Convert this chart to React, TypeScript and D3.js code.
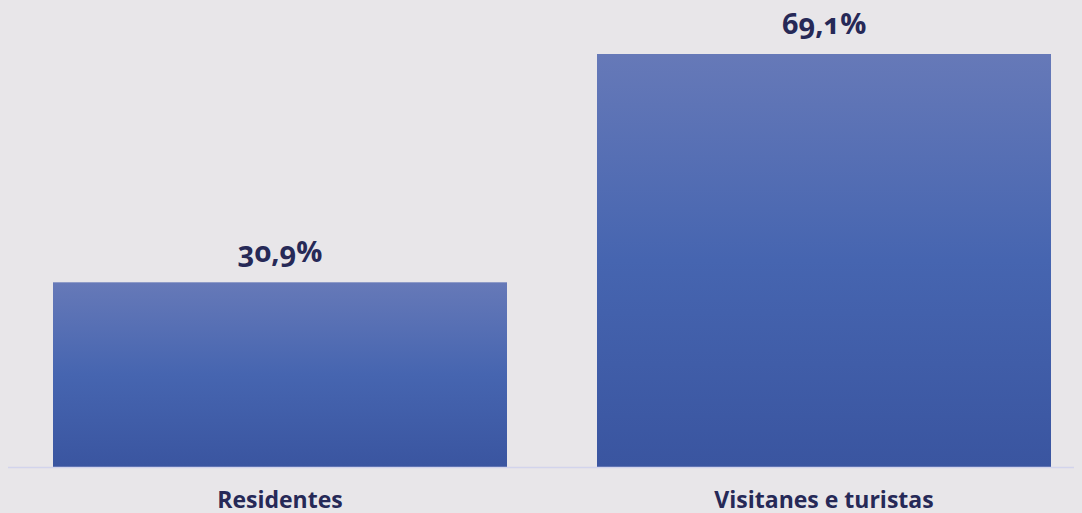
import React from "react";
import * as d3 from "d3";

const categories = ["Residentes", "Visitanes e turistas"];
const values = [30.9, 69.1];
const valueLabels = ["30,9%", "69,1%"];

const W = 1082;
const H = 513;

export default function App() {
  const x = d3
    .scaleBand<string>()
    .domain(categories)
    .range([8, 1096])
    .paddingInner(90 / 544)
    .paddingOuter(45 / 544);
  const y = d3.scaleLinear().domain([0, 69.1]).range([467, 54]);
  const font = "'Open Sans', 'Noto Sans', sans-serif";
  const textColor = "#262957";

  return (
    <svg
      width={W}
      height={H}
      style={{ position: "absolute", left: 0, top: 0, display: "block" }}
    >
      <defs>
        <linearGradient id="barGrad" x1="0" y1="0" x2="0" y2="1">
          <stop offset="0%" stopColor="#6679B8" />
          <stop offset="50%" stopColor="#4665B0" />
          <stop offset="100%" stopColor="#3A55A0" />
        </linearGradient>
      </defs>
      <rect x={0} y={0} width={W} height={H} fill="#E8E6E9" />
      {categories.map((c, i) => (
        <rect
          key={c}
          x={x(c)}
          y={y(values[i])}
          width={x.bandwidth()}
          height={y(0) - y(values[i])}
          fill="url(#barGrad)"
        />
      ))}
      <line x1={8} x2={1074} y1={y(0) + 0.5} y2={y(0) + 0.5} stroke="#D2D4EC" strokeWidth={1.5} />
      {categories.map((c, i) => (
        <text
          key={"v" + c}
          x={(x(c) as number) + x.bandwidth() / 2}
          y={y(values[i]) - 20}
          textAnchor="middle"
          fontFamily={font}
          fontWeight={700}
          fontSize={29}
          fill={textColor}
          style={{ fontVariantNumeric: "oldstyle-nums" }}
        >
          {valueLabels[i]}
        </text>
      ))}
      {categories.map((c) => (
        <text
          key={"c" + c}
          x={(x(c) as number) + x.bandwidth() / 2}
          y={508}
          textAnchor="middle"
          fontFamily={font}
          fontWeight={700}
          fontSize={23}
          fill={textColor}
        >
          {c}
        </text>
      ))}
    </svg>
  );
}
